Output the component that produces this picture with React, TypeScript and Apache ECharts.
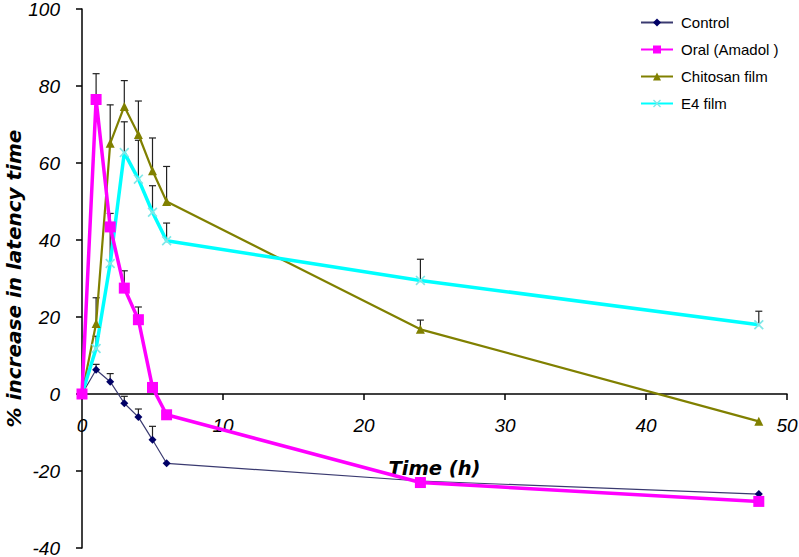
import React, { useEffect, useRef } from "react";
import * as echarts from "echarts";

const times = [0, 1, 2, 3, 4, 5, 6, 24, 48];
const control = [0, 6.3, 3.2, -2.4, -6.0, -11.9, -18.0, -22.6, -26.0];
const controlErr = [0, 1.4, 2.1, 1.8, 2.1, 3.5, 0, 0, 0];
const oral = [0, 76.5, 43.4, 27.5, 19.3, 1.7, -5.4, -23.0, -27.9];
const oralErr = [0, 6.7, 0, 4.5, 3.3, 0, 0, 0, 0];
const chitosan = [0, 18.3, 65.1, 74.7, 67.4, 58.0, 50.0, 16.8, -7.1];
const chitosanErr = [0, 6.7, 10.0, 6.7, 8.7, 8.5, 9.1, 2.4, 0];
const e4 = [0, 11.8, 33.9, 62.7, 55.8, 47.2, 39.8, 29.5, 18.0];
const e4Err = [0, 3.2, 13.0, 8.0, 10.1, 6.9, 4.6, 5.5, 3.5];

const seriesNames = ["Control", "Oral (Amadol )", "Chitosan film", "E4 film"];

const xSymbol =
  "path://M0,1.2L1.2,0L5,3.8L8.8,0L10,1.2L6.2,5L10,8.8L8.8,10L5,6.2L1.2,10L0,8.8L3.8,5Z";

const GRID_TOP = 9;
const GRID_BOTTOM = 9;
const CHART_H = 557;
const Y_MIN = -40;
const Y_MAX = 100;
// offset that lifts the bottom x axis up to the y = 0 line
const plotH = CHART_H - GRID_TOP - GRID_BOTTOM;
const zeroOffset = -(plotH * (0 - Y_MIN)) / (Y_MAX - Y_MIN);

function errorSeries(vals: number[], errs: number[]) {
  return {
    type: "custom",
    silent: true,
    z: 1,
    renderItem: (params: any, api: any) => {
      const x = api.value(0);
      const y = api.value(1);
      const e = api.value(2);
      const p0 = api.coord([x, y]);
      const p1 = api.coord([x, y + e]);
      return {
        type: "group",
        children: [
          {
            type: "line",
            shape: { x1: p0[0], y1: p0[1], x2: p1[0], y2: p1[1] },
            style: { stroke: "#222", lineWidth: 1.2 },
          },
          {
            type: "line",
            shape: { x1: p1[0] - 3.5, y1: p1[1], x2: p1[0] + 3.5, y2: p1[1] },
            style: { stroke: "#222", lineWidth: 1.2 },
          },
        ],
      };
    },
    data: times
      .map((t, i) => [t, vals[i], errs[i]])
      .filter((d) => d[2] > 0),
  };
}

export default function App() {
  const ref = useRef<HTMLDivElement>(null);
  useEffect(() => {
    if (!ref.current) return;
    const chart = echarts.init(ref.current, undefined, { renderer: "svg" });
    const tickFont = {
      fontFamily: "Liberation Sans, Arial, sans-serif",
      fontStyle: "italic",
      fontSize: 19,
      color: "#000",
    };
    chart.setOption({
      animation: false,
      backgroundColor: "#fff",
      grid: {
        left: 82,
        right: 12,
        top: GRID_TOP,
        bottom: GRID_BOTTOM,
        containLabel: false,
        outerBoundsMode: "none",
      },
      legend: {
        data: seriesNames,
        orient: "vertical",
        left: 640,
        top: 15,
        padding: 0,
        itemWidth: 32,
        itemHeight: 10,
        itemGap: 12,
        textStyle: {
          fontFamily: "Liberation Sans, Arial, sans-serif",
          fontSize: 15,
          color: "#000",
          padding: [0, 0, 0, 3],
        },
      },
      xAxis: {
        type: "value",
        min: 0,
        max: 50,
        interval: 10,
        position: "bottom",
        offset: zeroOffset,
        name: "Time (h)",
        nameLocation: "middle",
        nameGap: 64,
        nameMoveOverlap: false,
        nameTextStyle: {
          fontFamily: "DejaVu Sans, sans-serif",
          fontWeight: "bold",
          fontStyle: "italic",
          fontSize: 19.5,
          color: "#000",
        },
        axisLine: { onZero: false, lineStyle: { color: "#000", width: 1.5 } },
        axisTick: { show: true, inside: false, length: 6, lineStyle: { color: "#000", width: 1.5 } },
        axisLabel: { ...tickFont, margin: 22 },
        splitLine: { show: false },
      },
      yAxis: {
        type: "value",
        min: Y_MIN,
        max: Y_MAX,
        interval: 20,
        name: "% increase in latency time",
        nameLocation: "middle",
        nameGap: 58,
        nameMoveOverlap: false,
        nameTextStyle: {
          fontFamily: "DejaVu Sans, sans-serif",
          fontWeight: "bold",
          fontStyle: "italic",
          fontSize: 20,
          color: "#000",
        },
        axisLine: { show: true, onZero: false, lineStyle: { color: "#000", width: 1.5 } },
        axisTick: { show: true, inside: false, length: 6, lineStyle: { color: "#000", width: 1.5 } },
        axisLabel: { ...tickFont, margin: 22 },
        splitLine: { show: false },
      },
      series: [
        errorSeries(control, controlErr),
        errorSeries(oral, oralErr),
        errorSeries(chitosan, chitosanErr),
        errorSeries(e4, e4Err),
        {
          name: seriesNames[0],
          type: "line",
          z: 3,
          data: times.map((t, i) => [t, control[i]]),
          symbol: "diamond",
          symbolSize: 8,
          lineStyle: { color: "#3a3a70", width: 1.2 },
          itemStyle: { color: "#000066", borderWidth: 0 },
          color: "#000066",
        },
        {
          name: seriesNames[1],
          type: "line",
          z: 4,
          data: times.map((t, i) => [t, oral[i]]),
          symbol: "rect",
          symbolSize: 11,
          lineStyle: { color: "#ff00ff", width: 3.5 },
          itemStyle: { color: "#ff00ff", borderWidth: 0 },
          color: "#ff00ff",
        },
        {
          name: seriesNames[2],
          type: "line",
          z: 3,
          data: times.map((t, i) => [t, chitosan[i]]),
          symbol: "triangle",
          symbolSize: 9,
          lineStyle: { color: "#808000", width: 2.2 },
          itemStyle: { color: "#808000", borderWidth: 0 },
          color: "#808000",
        },
        {
          name: seriesNames[3],
          type: "line",
          z: 3,
          data: times.map((t, i) => [t, e4[i]]),
          symbol: xSymbol,
          symbolSize: 10,
          lineStyle: { color: "#00ffff", width: 3.5 },
          itemStyle: { color: "#7fe8e8", borderWidth: 0 },
          color: "#00ffff",
        },
      ],
    });
    return () => chart.dispose();
  }, []);
  return (
    <div
      ref={ref}
      style={{ position: "fixed", left: 0, top: 0, width: 799, height: 557, background: "#fff" }}
    />
  );
}
